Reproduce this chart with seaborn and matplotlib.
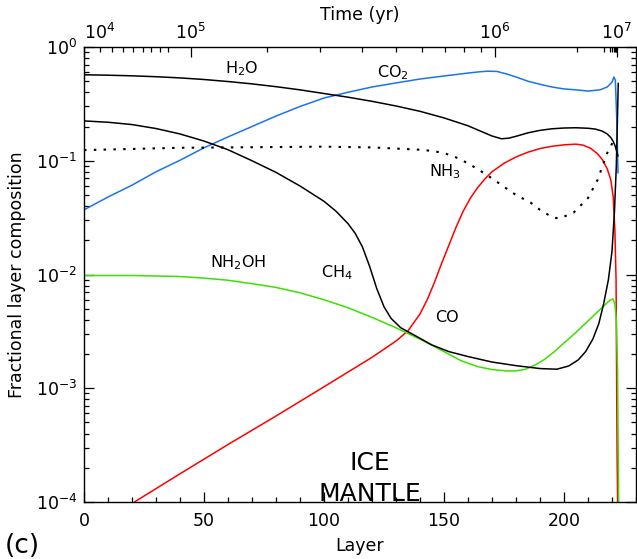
import numpy as np
import pandas as pd
import matplotlib
matplotlib.use("Agg")
import matplotlib.pyplot as plt
import seaborn as sns
from matplotlib.ticker import LogLocator, NullFormatter, MultipleLocator, FixedLocator

# ---------------- data ----------------
h2o_layer = [0, 10, 20, 30, 40, 50, 60, 70, 80, 90, 100, 110, 120, 130, 140, 150, 160, 165, 170, 174,
             177, 180, 185, 190, 195, 200, 205, 210, 213, 216, 218, 219.5, 220.5, 221.3, 222, 222.5]
h2o_val = [0.57, 0.565, 0.558, 0.548, 0.535, 0.518, 0.497, 0.474, 0.448, 0.42, 0.39, 0.362, 0.333,
           0.303, 0.272, 0.238, 0.203, 0.183, 0.165, 0.156, 0.158, 0.164, 0.176, 0.185, 0.191, 0.194,
           0.195, 0.193, 0.19, 0.182, 0.172, 0.16, 0.148, 0.135, 0.12, 0.11]

co2_layer = [0, 10, 20, 30, 40, 50, 60, 70, 80, 90, 100, 110, 120, 130, 140, 150, 160, 164, 168, 172,
             176, 180, 185, 190, 195, 200, 205, 210, 215, 218, 220, 220.8, 221.4, 222, 222.5]
co2_val = [0.037, 0.048, 0.061, 0.08, 0.101, 0.13, 0.162, 0.20, 0.247, 0.30, 0.356, 0.40, 0.445, 0.483,
           0.523, 0.556, 0.59, 0.603, 0.613, 0.61, 0.58, 0.545, 0.5, 0.47, 0.445, 0.428, 0.42, 0.41,
           0.42, 0.445, 0.49, 0.545, 0.51, 0.228, 0.078]

nh3_layer = [0, 20, 40, 60, 80, 100, 120, 140, 145, 150, 155, 160, 165, 170, 175, 180, 186, 190, 195,
             198, 204, 210, 214, 218, 221.2]
nh3_val = [0.124, 0.127, 0.13, 0.131, 0.132, 0.133, 0.131, 0.125, 0.122, 0.117, 0.107, 0.095, 0.082,
           0.07, 0.059, 0.05, 0.043, 0.037, 0.032, 0.031, 0.035, 0.047, 0.068, 0.117, 0.158]

ch4_layer = [0, 10, 20, 30, 40, 50, 60, 70, 80, 90, 100, 105, 110, 113, 116, 119, 122, 125, 128, 132,
             138, 145, 152, 160, 170, 180, 190, 197, 202, 206, 209, 212, 214.5, 216.5, 218.5, 220, 221,
             221.8, 222.3, 222.6]
ch4_val = [0.224, 0.218, 0.208, 0.192, 0.172, 0.149, 0.125, 0.1, 0.079, 0.06, 0.044, 0.036, 0.028,
           0.023, 0.0175, 0.0118, 0.0075, 0.0052, 0.0041, 0.0034, 0.0029, 0.0024, 0.0021, 0.0019,
           0.0017, 0.00158, 0.00149, 0.00147, 0.00157, 0.00178, 0.0021, 0.0027, 0.0037, 0.0055,
           0.009, 0.016, 0.035, 0.09, 0.25, 0.48]

nh2oh_layer = [0, 20, 40, 50, 60, 70, 80, 90, 100, 110, 120, 130, 140, 150, 157, 164, 170, 176, 180,
               184, 188, 192, 196, 200, 205, 210, 214, 217, 219, 220.4, 221.2, 221.8, 222.3, 222.9]
nh2oh_val = [0.0098, 0.0098, 0.0096, 0.0093, 0.0089, 0.0083, 0.0077, 0.0069, 0.006, 0.0051, 0.0042,
             0.0034, 0.0027, 0.0021, 0.00175, 0.00155, 0.00146, 0.00142, 0.00142, 0.00147, 0.0016,
             0.0018, 0.0021, 0.0025, 0.0031, 0.0039, 0.0047, 0.0054, 0.0059, 0.0061, 0.0055, 0.004,
             0.0015, 0.00005]

co_layer = [21, 40, 60, 80, 100, 120, 130, 135, 140, 143, 146, 149, 152, 155, 158, 161, 164, 167, 170,
            175, 180, 185, 190, 195, 200, 205, 208, 211, 214, 216, 218, 219.5, 220.5, 221.2, 221.7,
            222.1, 222.5]
co_val = [1e-4, 1.77e-4, 3.2e-4, 5.7e-4, 1.03e-3, 1.87e-3, 2.6e-3, 3.2e-3, 4.5e-3, 6.0e-3, 8.5e-3,
          0.0125, 0.018, 0.026, 0.036, 0.047, 0.058, 0.069, 0.08, 0.095, 0.108, 0.119, 0.128, 0.134,
          0.138, 0.14, 0.137, 0.129, 0.115, 0.102, 0.085, 0.068, 0.048, 0.0245, 0.0089, 0.00029,
          0.00005]

# top (time) axis: layer positions of the time ticks
time_major_layers = [0, 44.5, 171.3, 222]
time_major_labels = ["$10^4$", "$10^5$", "$10^6$", "$10^7$"]
time_minor_layers = [6.5, 11.7, 16.4, 20.6, 24.4, 28.0, 31.5, 34.8,
                     76.3, 98.4, 116, 130, 141, 150.5, 158.4, 165.4,
                     205.4, 216.6, 219.0, 220.1, 220.8, 221.3, 221.6, 221.8]

# ---------------- styling ----------------
sns.set_theme(style="white")
plt.rcParams['font.family'] = ['DejaVu Sans']
plt.rcParams['mathtext.default'] = 'regular'
plt.rcParams['font.size'] = 12.5
for k in ['text.color', 'axes.labelcolor', 'xtick.color', 'ytick.color', 'axes.edgecolor']:
    plt.rcParams[k] = 'black'

fig = plt.figure(figsize=(6.37, 5.59), dpi=100)
ax = fig.add_axes([84 / 637, 1 - 502 / 559, (636 - 84) / 637, (502 - 47) / 559])

BLUE = '#1a73f0'
RED = '#ff0000'
GREEN = '#3be000'


def draw(layers, vals, color, ls='-', lw=1.1):
    df = pd.DataFrame({'layer': layers, 'value': vals})
    sns.lineplot(data=df, x='layer', y='value', ax=ax, color=color, linestyle=ls,
                 linewidth=lw, sort=False, estimator=None)


draw(co_layer, co_val, RED)
draw(nh2oh_layer, nh2oh_val, GREEN)
draw(co2_layer, co2_val, BLUE)
draw(nh3_layer, nh3_val, 'black', ls=(0, (1.2, 3.5)), lw=1.5)
draw(h2o_layer, h2o_val, 'black')
draw(ch4_layer, ch4_val, 'black')

ax.set_yscale('log')
ax.set_xlim(0, 230)
ax.set_ylim(1e-4, 1)

ax.xaxis.set_major_locator(MultipleLocator(50))
ax.xaxis.set_minor_locator(MultipleLocator(10))
ax.yaxis.set_major_locator(LogLocator(base=10, numticks=10))
ax.yaxis.set_minor_locator(LogLocator(base=10, subs=np.arange(2, 10), numticks=20))
ax.yaxis.set_minor_formatter(NullFormatter())

ax.tick_params(axis='x', which='both', direction='in', bottom=True, top=False, colors='black',
               labelsize=12.5, pad=7)
ax.tick_params(axis='y', which='both', direction='in', left=True, right=True, colors='black',
               labelsize=12.5, pad=5)
ax.tick_params(which='major', length=7.2, width=0.9)
ax.tick_params(which='minor', length=3.6, width=0.9)
for s in ax.spines.values():
    s.set_color('black')
    s.set_linewidth(1.0)

ax.set_xlabel('Layer', fontsize=12.5, labelpad=5, color='black')
ax.set_ylabel('Fractional layer composition', fontsize=12.5, labelpad=7, color='black')

# top time axis
ax2 = ax.twiny()
ax2.set_xlim(ax.get_xlim())
ax2.xaxis.set_major_locator(FixedLocator(time_major_layers))
ax2.set_xticklabels(time_major_labels)
ax2.xaxis.set_minor_locator(FixedLocator(time_minor_layers))
ax2.tick_params(axis='x', which='both', direction='in', top=True, bottom=False, labelsize=12.5, pad=3,
                colors='black')
ax2.tick_params(which='major', length=7.2, width=0.9)
ax2.tick_params(which='minor', length=3.6, width=0.9)
ax2.get_xticklabels()[0].set_ha('left')
ax2.set_xlabel('Time (yr)', fontsize=12.5, labelpad=2, color='black')
for s in ax2.spines.values():
    s.set_visible(False)

# curve labels
lbl = dict(fontsize=11.5, ha='center', va='center', color='black')
ax.text(65.8, 0.65, 'H$_2$O', **lbl)
ax.text(128.7, 0.60, 'CO$_2$', **lbl)
ax.text(150.4, 0.0796, 'NH$_3$', **lbl)
ax.text(105.4, 0.0103, 'CH$_4$', **lbl)
ax.text(64.2, 0.0126, 'NH$_2$OH', **lbl)
ax.text(151.2, 0.00415, 'CO', **lbl)
ax.text(119.2, 1.6e-4, 'ICE\nMANTLE', fontsize=18, ha='center', va='center', linespacing=1.35,
        color='black')

fig.text(0.008, 0.0, '(c)', fontsize=19, ha='left', va='bottom', color='black')

fig.savefig('out.png', dpi=100)
